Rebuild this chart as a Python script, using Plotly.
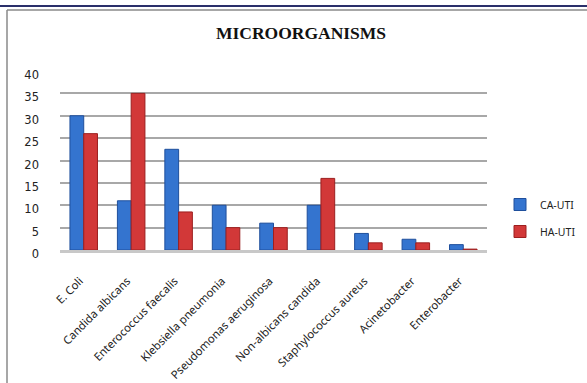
import plotly.graph_objects as go

categories = ["E. Coli", "Candida albicans", "Enterococcus faecalis", "Klebsiella pneumonia",
              "Pseudomonas aeruginosa", "Non-albicans candida", "Staphylococcus aureus",
              "Acinetobacter", "Enterobacter"]
ca_uti = [30, 11, 22.5, 10, 6, 10, 3.7, 2.4, 1.2]
ha_uti = [26, 35, 8.5, 5, 5, 16, 1.6, 1.6, 0.2]
y_ticks = [0, 5, 10, 15, 20, 25, 30, 35, 40]

W, H = 587, 383
L, R, T, B = 60, 100, 71, 133
PW, PH = W - L - R, H - T - B

fig = go.Figure()
fig.add_trace(go.Bar(x=categories, y=ca_uti, name="CA-UTI", legendgroup="a",
                     marker=dict(color="#3474cf", line=dict(color="#1f4f9c", width=1))))
fig.add_trace(go.Bar(x=categories, y=ha_uti, name="HA-UTI", legendgroup="b",
                     marker=dict(color="#d23838", line=dict(color="#9c1f1f", width=1))))

fig.update_layout(
    width=W, height=H,
    margin=dict(l=L, r=R, t=T, b=B, autoexpand=False),
    paper_bgcolor="white", plot_bgcolor="white",
    barmode="group", bargap=0.42, bargroupgap=0.0,
    title=dict(text="<b>MICROORGANISMS</b>", x=301 / W, xanchor="center",
               y=1 - 33 / H, yanchor="middle",
               font=dict(family="Liberation Serif", size=17.5, color="#111111")),
    font=dict(family="Noto Sans", size=10, color="#222222"),
    legend=dict(x=(500 - L) / PW, xanchor="left", y=(250 - 218) / PH, yanchor="middle",
                font=dict(family="Noto Sans", size=10.5, color="#222222"),
                tracegroupgap=8, itemwidth=30, bgcolor="rgba(0,0,0,0)"),
    showlegend=True,
    xaxis=dict(tickangle=-45, showgrid=False, showline=True, linecolor="#c8c8c8",
               linewidth=3, ticks="", ticklabelstandoff=17, ticklabelshift=-4,
               tickfont=dict(family="Noto Sans", size=11.3)),
    yaxis=dict(range=[0, 40], tickvals=y_ticks, showgrid=True, gridcolor="#a8a8a8",
               gridwidth=2, zeroline=False, showline=False, ticks="",
               ticklabelstandoff=20, ticklabelshift=4,
               tickfont=dict(family="DejaVu Sans", size=11.5)),
    shapes=[
        dict(type="line", xref="paper", yref="paper", x0=-0.5, x1=2,
             y0=1 + (T - 6) / PH, y1=1 + (T - 6) / PH,
             line=dict(color="#2a2f6a", width=2)),
        dict(type="line", xref="paper", yref="paper", x0=-(L - 7) / PW, x1=2,
             y0=1 + (T - 10) / PH, y1=1 + (T - 10) / PH,
             line=dict(color="#8a8a8a", width=1.5)),
        dict(type="line", xref="paper", yref="paper", x0=-(L - 7) / PW,
             x1=-(L - 7) / PW, y0=1 + (T - 10) / PH, y1=-2,
             line=dict(color="#8a8a8a", width=1.5)),
    ],
)

fig.write_html("out.html")
